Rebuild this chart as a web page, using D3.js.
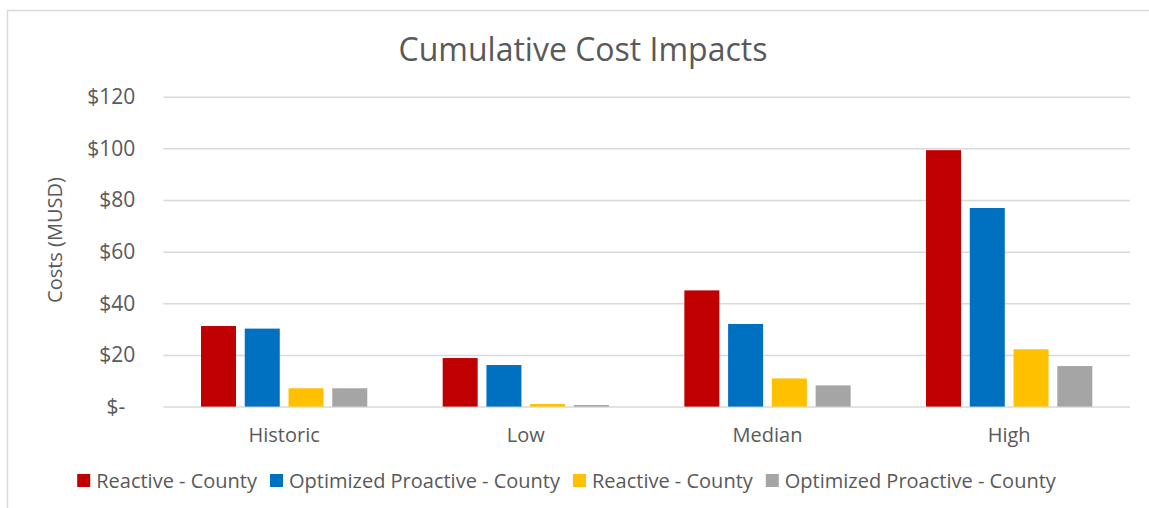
<!DOCTYPE html>
<html>
<head>
<meta charset="utf-8">
<script src="https://cdn.jsdelivr.net/npm/d3@7"></script>
<style>
  html, body { margin: 0; padding: 0; background: #fff; }
  svg { display: block; font-family: "Open Sans", "DejaVu Sans", sans-serif; }
</style>
</head>
<body>
<svg id="chart" width="1149" height="508"></svg>
<script>
// Scenario categories along the x axis
const categories = ["Historic", "Low", "Median", "High"];

// Legend names, one per series (the list repeats two names)
const seriesNames = [
  "Reactive - County",
  "Optimized Proactive - County",
  "Reactive - County",
  "Optimized Proactive - County"
];

// Cumulative costs in millions of USD, one array per series
const reactiveCounty      = [31.2, 18.8, 45.0, 99.3];
const optimizedCounty     = [30.2, 16.1, 32.0, 76.9];
const reactiveCountyB     = [7.1, 1.0, 10.9, 22.2];
const optimizedCountyB    = [7.1, 0.6, 8.2, 15.7];

const seriesValues = [reactiveCounty, optimizedCounty, reactiveCountyB, optimizedCountyB];
const seriesColors = ["#C00000", "#0070C0", "#FFC000", "#A5A5A5"];

// Value axis ticks and their labels
const yTicks = [0, 20, 40, 60, 80, 100, 120];
const yTickLabels = ["$-", "$20", "$40", "$60", "$80", "$100", "$120"];

const svg = d3.select("#chart");
const textColor = "#595959";
const gridColor = "#D9D9D9";

// Chart area frame
svg.append("rect")
  .attr("x", 7.5).attr("y", 10.5)
  .attr("width", 1160).attr("height", 520)
  .attr("fill", "#fff")
  .attr("stroke", gridColor).attr("stroke-width", 1.5);

const plot = { left: 163.3, right: 1130, top: 96.7, bottom: 406.6 };

const y = d3.scaleLinear().domain([0, 120]).range([plot.bottom, plot.top]);
const x0 = d3.scaleBand().domain(categories).range([plot.left, plot.right]).padding(0);
const x1 = d3.scaleBand()
  .domain(d3.range(seriesNames.length))
  .range([37.7, x0.bandwidth() - 37.7])
  .paddingInner(0.2);

// Title
svg.append("text")
  .attr("x", 583).attr("y", 61)
  .attr("text-anchor", "middle")
  .attr("font-size", 32)
  .attr("fill", textColor)
  .text("Cumulative Cost Impacts");

// Gridlines and value axis labels
const yAxis = d3.axisLeft(y)
  .tickValues(yTicks)
  .tickSize(-(plot.right - plot.left))
  .tickPadding(28)
  .tickFormat((d, i) => yTickLabels[i]);

const gy = svg.append("g")
  .attr("transform", `translate(${plot.left},0)`)
  .call(yAxis);
gy.select(".domain").remove();
gy.selectAll(".tick line").attr("stroke", gridColor).attr("stroke-width", 1.5);
gy.selectAll(".tick text")
  .attr("fill", textColor)
  .attr("font-size", 21)
  .attr("font-family", "\"Open Sans\", sans-serif")
  .attr("dx", d => d === 0 ? -10 : 0);

// Axis title
svg.append("text")
  .attr("transform", "translate(62,240) rotate(-90)")
  .attr("text-anchor", "middle")
  .attr("font-size", 20)
  .attr("fill", textColor)
  .text("Costs (MUSD)");

// Bars
const groups = svg.append("g").selectAll("g")
  .data(categories)
  .join("g")
  .attr("transform", d => `translate(${x0(d)},0)`);

groups.selectAll("rect")
  .data((d, ci) => seriesValues.map((vals, si) => ({ si, value: vals[ci] })))
  .join("rect")
  .attr("x", d => x1(d.si))
  .attr("width", x1.bandwidth())
  .attr("y", d => y(d.value))
  .attr("height", d => y(0) - y(d.value))
  .attr("fill", d => seriesColors[d.si]);

// Category axis labels
const xAxis = d3.axisBottom(x0).tickSize(0).tickPadding(21);
const gx = svg.append("g")
  .attr("transform", `translate(0,${plot.bottom})`)
  .call(xAxis);
gx.select(".domain").remove();
gx.selectAll(".tick text")
  .attr("fill", textColor)
  .attr("font-size", 20)
  .attr("font-family", "\"Open Sans\", sans-serif");

// Legend
const legend = svg.append("g").attr("transform", "translate(0,481)");
const items = legend.selectAll("g")
  .data(seriesNames.map((name, i) => ({ name, i })))
  .join("g");
items.append("rect")
  .attr("width", 13).attr("height", 13)
  .attr("y", -7)
  .attr("fill", d => seriesColors[d.i]);
items.append("text")
  .attr("x", 19)
  .attr("dy", "0.35em")
  .attr("font-size", 20)
  .attr("fill", textColor)
  .text(d => d.name);

// Lay out legend entries side by side, centred
let cursor = 0;
const offsets = [];
items.each(function () {
  offsets.push(cursor);
  cursor += this.getBBox().width + 12;
});
const totalWidth = cursor - 12;
const start = 567 - totalWidth / 2;
items.attr("transform", (d, i) => `translate(${start + offsets[i]},0)`);
</script>
</body>
</html>
